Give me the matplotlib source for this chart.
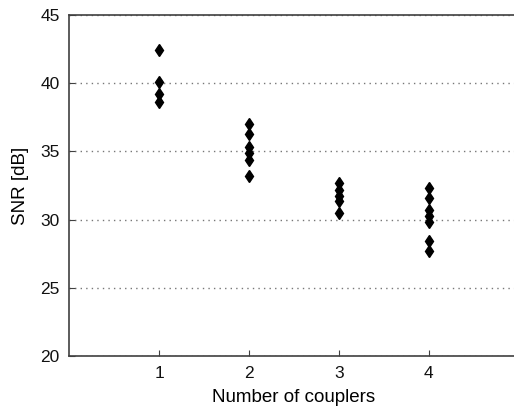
import matplotlib
matplotlib.use("Agg")
import matplotlib.pyplot as plt

plt.rcParams['font.family'] = ['Liberation Sans', 'DejaVu Sans']

couplers = [1, 2, 3, 4]
snr_1 = [42.4, 40.1, 39.2, 38.6]
snr_2 = [37.0, 36.3, 35.35, 34.9, 34.4, 33.2]
snr_3 = [32.65, 32.2, 31.7, 31.35, 30.5]
snr_4 = [32.3, 31.6, 30.7, 30.3, 29.85, 28.4, 27.7]
groups = [snr_1, snr_2, snr_3, snr_4]
yticks = [20, 25, 30, 35, 40, 45]

fig = plt.figure(figsize=(5.14, 4.13), dpi=100)
ax = fig.add_axes([0.1348, 0.138, 0.8745, 0.8257])

for c, vals in zip(couplers, groups):
    ax.plot([c] * len(vals), vals, linestyle='none', marker='d',
            color='black', markersize=6.5)

ax.set_xlim(0, 5)
ax.set_ylim(20, 45)
ax.set_xticks(couplers)
ax.set_yticks(yticks)
ax.yaxis.grid(True, linestyle=(0, (1, 3)), color='#777777', linewidth=1)
ax.tick_params(direction='in', labelsize=12.5, colors='#404040', labelcolor='#111111', length=4, pad=7)
for s in ax.spines.values():
    s.set_color('#404040')
    s.set_linewidth(1.2)
ax.set_xlabel('Number of couplers', fontsize=13.5, labelpad=6)
ax.set_ylabel('SNR [dB]', fontsize=13.5, labelpad=8)

fig.savefig('out.png', dpi=100)
